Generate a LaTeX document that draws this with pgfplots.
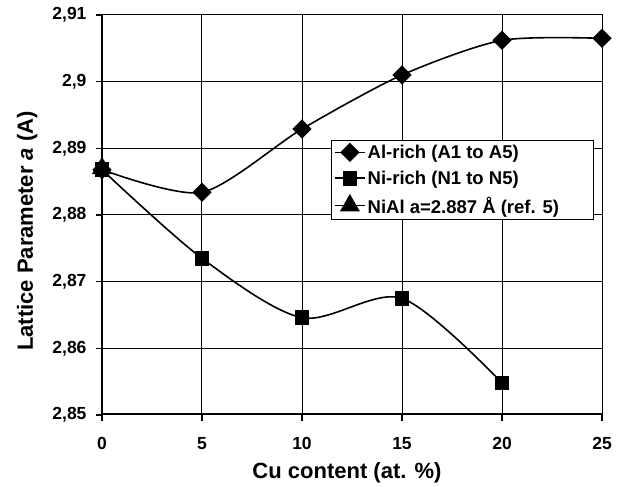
\documentclass[border=0pt]{standalone}
\usepackage{fontspec}
\setmainfont{Liberation Sans}
\usepackage{pgfplots}
\pgfplotsset{compat=1.18}

\begin{document}
\begin{tikzpicture}
\begin{axis}[
    scale only axis,
    width=500pt, height=400pt,
    xmin=0, xmax=25,
    ymin=2.85, ymax=2.91,
    xtick={0,5,10,15,20,25},
    ytick={2.85,2.86,2.87,2.88,2.89,2.90,2.91},
    yticklabels={{2,85},{2,86},{2,87},{2,88},{2,89},{2,9},{2,91}},
    tick label style={font=\fontsize{17.5}{20}\selectfont\bfseries},
    /pgf/number format/assume math mode=true,
    xticklabel style={yshift=-13pt},
    yticklabel style={xshift=-6pt},
    tick align=outside,
    major tick length=6pt,
    tick style={black, line width=1.5pt},
    xtick pos=bottom, ytick pos=left,
    grid=major,
    grid style={black, line width=1pt},
    axis line style={line width=1pt},
    xlabel={Cu content (at. \%)},
    ylabel={Lattice Parameter \textit{a} (A)},
    label style={font=\fontsize{22}{24}\selectfont\bfseries},
    xlabel style={yshift=-6pt, xshift=-5pt},
    ylabel style={yshift=8pt, xshift=-16pt},
    legend style={at={(0.984,0.6875)}, anchor=north east,
        font=\fontsize{18.5}{21}\selectfont\bfseries,
        draw=black, line width=0.8pt, inner sep=2.5pt,
        row sep=7pt},
    legend image code/.code={\draw[mark repeat=2,mark phase=2]
        plot coordinates {(0pt,0pt)(15pt,0pt)(30pt,0pt)};},
    legend cell align=left,
]
\addplot[black, line width=1.6pt, smooth, tension=0.45, mark=square*, mark size=6pt,
    mark options={rotate=45, solid}]
    coordinates {(0,2.8868)(5,2.8834)(10,2.8929)(15,2.9010)(20,2.9062)(25,2.9065)};
\addlegendentry{Al-rich (A1 to A5)}
\addplot[black, line width=1.6pt, smooth, mark=square*, mark size=6.5pt]
    coordinates {(0,2.8868)(5,2.8735)(10,2.8646)(15,2.8675)(20,2.8548)};
\addlegendentry{Ni-rich (N1 to N5)}
\addplot[black, line width=1.6pt, mark=triangle*, mark size=10pt]
    coordinates {(0,2.887)};
\addlegendentry{NiAl a=2.887 Å (ref. 5)\hspace*{30pt}}
\draw[black, line width=3pt] (rel axis cs:0,1) -- (rel axis cs:0,0) -- (rel axis cs:1,0);
\coordinate (sw) at (rel axis cs:0,0);
\coordinate (ne) at (rel axis cs:1,1);
\end{axis}
\path ([shift={(-102pt,-70pt)}]sw) rectangle ([shift={(22pt,15pt)}]ne);
\end{tikzpicture}
\end{document}
